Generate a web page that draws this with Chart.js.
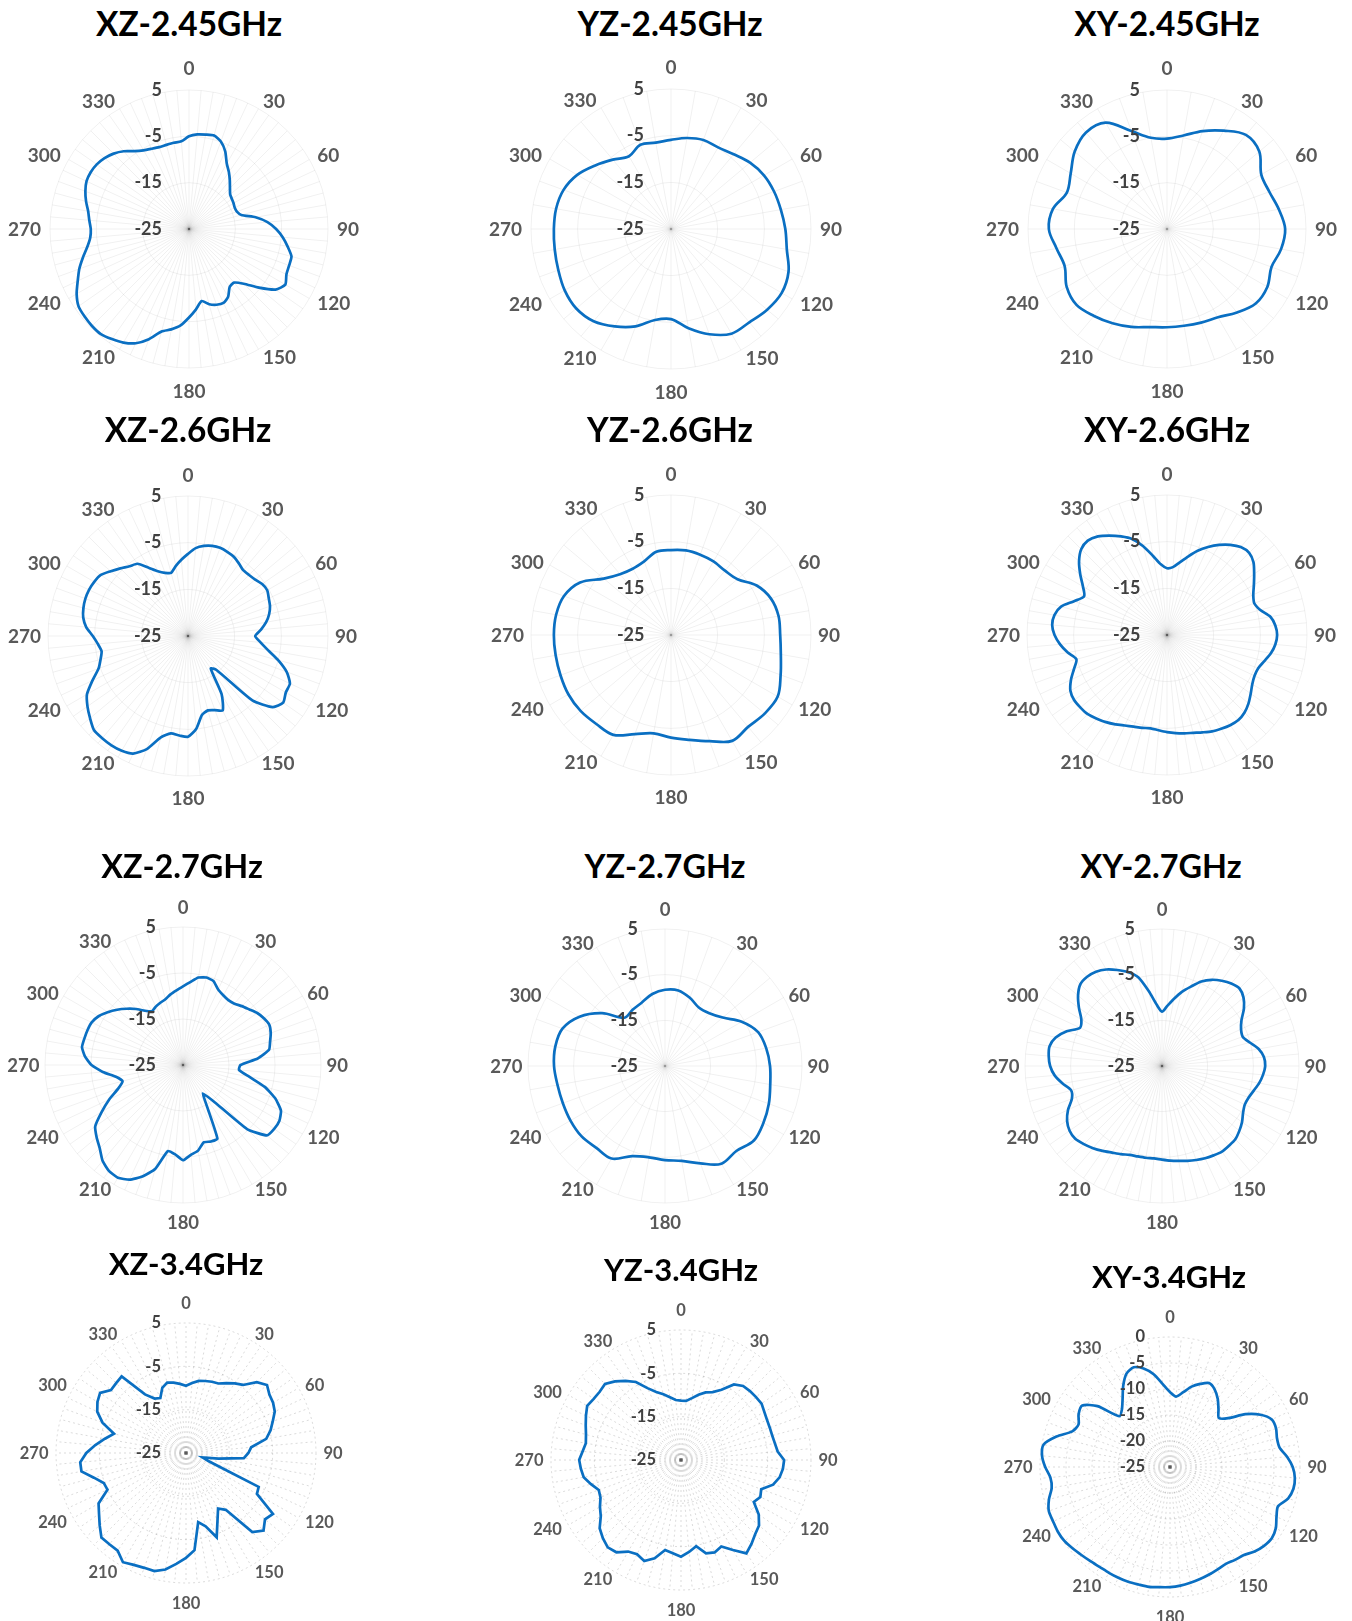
<!DOCTYPE html>
<html>
<head>
<meta charset="utf-8">
<script src="https://cdn.jsdelivr.net/npm/chart.js@4.4.1/dist/chart.umd.min.js"></script>
<style>
  html, body { margin: 0; padding: 0; background: #fff; }
  body { width: 1352px; height: 1621px; position: relative; overflow: hidden; font-family: Lato, sans-serif; }
  .plot { position: absolute; }
  .title { position: absolute; width: 400px; text-align: center; font-family: Lato, sans-serif; font-weight: bold; color: #000; line-height: 40px; }
</style>
</head>
<body>
<script>
// ---- ANGLES (degrees, clockwise from top) ----
const ANGLES_10 = [0, 10, 20, 30, 40, 50, 60, 70, 80, 90, 100, 110, 120, 130, 140, 150, 160, 170,
  180, 190, 200, 210, 220, 230, 240, 250, 260, 270, 280, 290, 300, 310, 320, 330, 340, 350];
const ANGLES_5 = [0, 5, 10, 15, 20, 25, 30, 35, 40, 45, 50, 55, 60, 65, 70, 75, 80, 85,
  90, 95, 100, 105, 110, 115, 120, 125, 130, 135, 140, 145, 150, 155, 160, 165, 170, 175,
  180, 185, 190, 195, 200, 205, 210, 215, 220, 225, 230, 235, 240, 245, 250, 255, 260, 265,
  270, 275, 280, 285, 290, 295, 300, 305, 310, 315, 320, 325, 330, 335, 340, 345, 350, 355];

// ---- RADIAL TICKS (dB) ----
const TICKS_MAIN = [-25, -15, -5, 5];
const TICKS_XY34 = [-25, -20, -15, -10, -5, 0];

// ---- GAIN PATTERNS (dB) ----
const XZ_245 = [-5.0, -4.5, -4.3, -4.1, -4.9, -6.5, -8.7, -10.0, -11.3, -12.5, -13.4, -13.7,
  -13.9, -14.1, -14.0, -13.3, -10.4, -8.0, -6.2, -4.7, -3.4, -2.1, -2.0, -1.8,
  -1.0, -2.2, -5.3, -8.3, -9.9, -9.7, -8.1, -7.4, -7.6, -8.2, -9.2, -7.6,
  -5.9, -4.1, -3.0, -2.1, 0.3, 2.2, 3.3, 4.0, 4.6, 4.6, 4.4, 4.1,
  3.0, 1.5, 0.2, -1.3, -2.7, -3.6, -3.8, -3.4, -2.9, -2.0, -1.2, -0.6,
  -0.5, -0.7, -1.2, -2.0, -3.1, -4.5, -5.4, -5.9, -6.2, -6.2, -6.1, -6.0];

const YZ_245 = [-5.9, -5.2, -4.7, -4.8, -4.1, -2.9, -2.0, -1.5, -1.1, -0.5, 0.2, 1.8,
  2.4, 1.9, 1.1, 0.9, -1.0, -3.4, -5.7, -5.2, -2.8, -0.9, 0.8, 1.5,
  1.3, 0.7, 0.3, 0.1, 0.0, -0.5, -1.8, -3.8, -5.6, -7.0, -5.8, -6.2];

const XY_245 = [-5.5, -4.5, -2.5, -0.5, 1.5, 1.0, -1.5, -1.5, -0.5, 0.5, 0.0, -1.0,
  0.0, 0.0, -1.5, -3.0, -3.5, -3.8, -3.8, -3.5, -2.5, -1.5, -0.5, 0.5,
  0.0, -1.5, -0.8, 0.5, 0.0, -2.0, -1.0, 1.0, 2.2, 1.5, -2.5, -5.0];

const XZ_26 = [-7.4, -6.1, -5.4, -5.0, -4.9, -5.1, -5.4, -6.0, -6.6, -6.5, -6.2, -5.6,
  -5.4, -5.9, -6.3, -7.0, -8.0, -9.3, -10.6, -9.4, -7.6, -5.0, -2.5, -0.9,
  -0.8, -0.1, -1.3, -5.5, -15.5, -16.5, -10.6, -7.4, -8.1, -8.5, -7.8, -5.0,
  -3.4, -3.6, -3.8, -2.5, 0.8, 2.8, 3.4, 3.6, 3.6, 3.5, 2.4, 1.3,
  0.0, -2.4, -4.6, -5.6, -6.2, -5.6, -4.6, -3.1, -2.2, -1.8, -1.6, -1.6,
  -1.8, -2.2, -3.4, -4.5, -5.5, -6.1, -8.1, -9.7, -10.6, -11.0, -9.8, -8.6];

const YZ_26 = [-6.8, -6.6, -6.7, -6.8, -7.0, -6.4, -3.8, -2.2, -1.6, -1.6, -1.1, 0.0,
  1.4, 1.2, 0.7, 1.2, -0.8, -2.2, -3.0, -3.6, -2.4, -0.3, -0.1, 0.3,
  0.4, 0.2, 0.1, 0.1, 0.0, -0.6, -2.5, -6.2, -8.0, -8.6, -8.2, -6.9];

const XY_26 = [-10.7, -10.4, -9.2, -7.6, -5.8, -4.2, -2.7, -1.4, -0.4, -0.1, -0.8, -2.2,
  -3.5, -4.6, -5.1, -4.3, -2.5, -1.7, -1.4, -1.7, -2.4, -3.4, -4.2, -4.3,
  -3.9, -3.1, -2.2, -1.5, -1.2, -1.4, -1.8, -2.2, -2.8, -3.3, -3.6, -3.9,
  -4.2, -4.5, -4.7, -4.4, -4.1, -3.6, -2.9, -2.2, -1.6, -1.0, -0.8, -0.7,
  -1.1, -2.3, -3.8, -4.9, -3.4, -2.0, -0.9, -0.3, -0.5, -1.5, -3.8, -5.4,
  -4.2, -2.3, -0.4, 1.0, 1.4, 0.8, -0.4, -1.7, -3.1, -5.3, -7.8, -9.8];

const XZ_27 = [-7.9, -6.9, -5.7, -5.3, -5.6, -6.9, -7.5, -7.8, -7.6, -6.9, -6.2, -5.3,
  -4.7, -4.3, -4.7, -5.4, -6.0, -8.7, -12.5, -12.8, -10.4, -6.6, -3.6, -1.5,
  -0.8, -0.8, -1.2, -5.3, -14.8, -17.5, -14.5, -7.3, -7.3, -7.6, -6.1, -5.4,
  -4.3, -5.5, -6.0, -1.6, 0.8, 2.5, 3.3, 3.1, 2.2, 0.6, -0.5, -1.7,
  -4.6, -7.3, -10.0, -11.4, -10.2, -7.5, -5.1, -3.6, -2.7, -2.8, -2.9, -3.1,
  -3.8, -5.0, -6.3, -7.7, -9.1, -10.6, -11.5, -11.0, -10.6, -10.2, -9.4, -8.7];

const YZ_27 = [-8.3, -8.2, -9.1, -10.2, -9.9, -8.5, -5.6, -3.3, -2.5, -2.0, -1.6, -0.8,
  -0.1, 0.4, -0.7, -0.3, -2.3, -3.9, -4.4, -4.7, -4.0, -1.6, -1.6, -1.1,
  -1.1, -1.2, -1.1, -0.7, -0.6, -1.1, -3.4, -7.0, -11.2, -10.8, -10.2, -9.0];

const XY_27 = [-13.1, -11.8, -10.1, -8.2, -6.5, -4.6, -3.2, -2.2, -1.4, -1.0, -1.7, -3.1,
  -4.9, -5.9, -6.2, -5.1, -3.5, -2.6, -2.4, -2.8, -3.4, -4.2, -4.8, -5.0,
  -4.5, -3.6, -2.9, -2.3, -2.2, -2.1, -2.4, -2.7, -3.1, -3.5, -3.9, -4.2,
  -4.5, -4.7, -4.6, -4.5, -4.3, -3.7, -3.1, -2.3, -1.5, -0.8, -0.2, -0.3,
  -1.0, -2.3, -4.0, -4.4, -2.9, -1.4, -0.5, -0.1, 0.0, -0.9, -2.8, -5.2,
  -4.6, -2.8, -1.0, 0.3, 0.5, 0.2, -0.6, -1.8, -3.1, -4.9, -8.4, -11.5];

const XZ_34 = [-9.5, -8.8, -8.1, -7.8, -7.5, -7.3, -6.4, -5.4, -4.5, -1.9, -0.6, -1.5,
  -1.8, -2.4, -3.7, -4.8, -6.2, -9.9, -10.6, -11.6, -17.4, -21.0, -19.4, -6.5,
  -6.1, -0.5, -1.2, 0.3, -1.2, -9.0, -10.2, -7.8, -4.3, -7.5, -8.8, -2.5,
  -0.8, 0.7, 2.3, 3.2, 3.2, 3.5, 4.1, 2.5, 2.5, 2.6, 1.0, -0.5,
  -1.7, -5.0, -4.8, -3.0, -0.5, -0.5, -2.0, -4.0, -6.0, -7.8, -4.5, -2.4,
  -1.4, -0.8, -2.4, -2.2, -1.9, -8.5, -10.5, -11.0, -9.0, -8.2, -8.5, -9.0];

const YZ_34 = [-11.3, -11.3, -10.5, -9.4, -8.4, -7.7, -6.3, -3.7, -2.7, -2.5, -2.4, -2.3,
  -2.8, -3.1, -3.2, -3.2, -3.0, -2.6, -1.2, -1.4, -1.9, -3.0, -5.3, -4.8,
  -5.6, -3.1, -1.5, -0.8, 0.3, 1.3, -1.0, -3.0, -2.3, -2.7, -4.8, -3.7,
  -2.7, -3.4, -3.9, -1.5, -0.2, -1.0, -0.6, 1.0, 1.3, 0.5, -0.5, -2.4,
  -3.4, -4.5, -4.8, -3.5, -2.2, -1.8, -1.5, -2.2, -2.7, -2.3, -1.6, -0.8,
  0.0, -0.4, -0.5, -0.2, -1.3, -2.7, -4.2, -6.7, -8.3, -9.3, -10.3, -11.1];

const XY_34 = [-10.6, -11.4, -10.4, -9.0, -8.0, -7.2, -7.8, -9.0, -10.5, -11.7, -10.4, -7.3,
  -4.9, -3.4, -3.3, -3.7, -3.6, -2.4, -1.4, -0.9, -0.9, -1.5, -2.9, -2.4,
  -1.5, -1.1, -1.4, -2.0, -2.9, -3.2, -3.5, -3.3, -3.0, -2.7, -2.4, -2.1,
  -1.9, -1.8, -1.6, -1.6, -1.5, -1.5, -1.5, -1.5, -1.3, -1.0, -0.6, -0.2,
  -0.1, -0.2, -0.2, -0.9, -1.9, -1.9, -1.0, -0.3, -0.3, -2.4, -5.0, -5.6,
  -4.7, -4.4, -6.8, -11.2, -10.6, -9.1, -7.0, -5.2, -4.6, -5.4, -6.9, -9.0];

// ---- TEXT STYLE PER ROW (font sizes in px, label gap outside the ring) ----
const ROW_STYLE = [
  { titleSize: 33.4, angleSize: 19,   tickSize: 18,   gap: 9,   capOffset: 13.5, tickOffset: 27 },
  { titleSize: 33.4, angleSize: 19,   tickSize: 18,   gap: 7,   capOffset: 14.5, tickOffset: 26.5 },
  { titleSize: 32.4, angleSize: 18.5, tickSize: 18,   gap: 5.5, capOffset: 14,   tickOffset: 27 },
  { titleSize: 31,   angleSize: 16.5, tickSize: 16.5, gap: 7.5, capOffset: 12.5, tickOffset: 25 }
];

// ---- LAYOUT: plot centre, ring radius (px) and title position ----
const PLOTS = [
  { title: 'XZ-2.45GHz', angles: ANGLES_5,  values: XZ_245, ticks: TICKS_MAIN, row: 0, cx: 189,   cy: 229,    r: 139,   tx: 189, ty: 23,   tension: 0.2 },
  { title: 'YZ-2.45GHz', angles: ANGLES_10, values: YZ_245, ticks: TICKS_MAIN, row: 0, cx: 670.7, cy: 229.3,  r: 140,   tx: 670, ty: 23,   tension: 0.35 },
  { title: 'XY-2.45GHz', angles: ANGLES_10, values: XY_245, ticks: TICKS_MAIN, row: 0, cx: 1167,  cy: 228.5,  r: 139,   tx: 1167, ty: 23,  tension: 0.35 },
  { title: 'XZ-2.6GHz',  angles: ANGLES_5,  values: XZ_26,  ticks: TICKS_MAIN, row: 1, cx: 187.7, cy: 635.7,  r: 140,   tx: 188, ty: 429,  tension: 0.2 },
  { title: 'YZ-2.6GHz',  angles: ANGLES_10, values: YZ_26,  ticks: TICKS_MAIN, row: 1, cx: 670.7, cy: 635,    r: 140,   tx: 670, ty: 429,  tension: 0.35 },
  { title: 'XY-2.6GHz',  angles: ANGLES_5,  values: XY_26,  ticks: TICKS_MAIN, row: 1, cx: 1167,  cy: 635,    r: 140,   tx: 1167, ty: 429, tension: 0.25 },
  { title: 'XZ-2.7GHz',  angles: ANGLES_5,  values: XZ_27,  ticks: TICKS_MAIN, row: 2, cx: 183,   cy: 1065.3, r: 137.5, tx: 182, ty: 866,  tension: 0.15 },
  { title: 'YZ-2.7GHz',  angles: ANGLES_10, values: YZ_27,  ticks: TICKS_MAIN, row: 2, cx: 665,   cy: 1066,   r: 137,   tx: 665, ty: 866,  tension: 0.35 },
  { title: 'XY-2.7GHz',  angles: ANGLES_5,  values: XY_27,  ticks: TICKS_MAIN, row: 2, cx: 1161.7, cy: 1066,  r: 137,   tx: 1161, ty: 866, tension: 0.25 },
  { title: 'XZ-3.4GHz',  angles: ANGLES_5,  values: XZ_34,  ticks: TICKS_MAIN, row: 3, cx: 186,   cy: 1453.3, r: 130,   tx: 186, ty: 1263, tension: 0, dashed: true },
  { title: 'YZ-3.4GHz',  angles: ANGLES_5,  values: YZ_34,  ticks: TICKS_MAIN, row: 3, cx: 681,   cy: 1460,   r: 130,   tx: 681, ty: 1269, tension: 0, dashed: true },
  { title: 'XY-3.4GHz',  angles: ANGLES_5,  values: XY_34,  ticks: TICKS_XY34, row: 3, cx: 1170,  cy: 1466.7, r: 130,   tx: 1169, ty: 1276, tension: 0.25, dashed: true }
];

// dB labels sit left of the 0-degree spoke, right-aligned
const sideTicks = {
  id: 'sideTicks',
  afterDatasetsDraw(chart, args, opts) {
    const s = chart.scales.r;
    const ctx = chart.ctx;
    ctx.save();
    ctx.font = 'bold ' + opts.size + 'px Lato, sans-serif';
    ctx.fillStyle = '#404040';
    ctx.textAlign = 'right';
    ctx.textBaseline = 'middle';
    s.ticks.forEach(t => {
      const d = s.getDistanceFromCenterForValue(t.value);
      ctx.fillText(String(t.value), s.xCenter - opts.offset, s.yCenter - d);
    });
    ctx.restore();
  }
};

// angle labels every 30 degrees: anchored just outside the outer ring,
// text edge facing the ring, vertically centred (top/bottom ones stacked)
const angleLabels = {
  id: 'angleLabels',
  afterDraw(chart, args, opts) {
    const s = chart.scales.r;
    const ctx = chart.ctx;
    ctx.save();
    ctx.font = 'bold ' + opts.size + 'px Lato, sans-serif';
    ctx.fillStyle = '#595959';
    ctx.textBaseline = 'middle';
    chart.data.labels.forEach((a, i) => {
      if (a % 30 !== 0) return;
      const pt = s.getPointPosition(i, s.drawingArea + opts.gap);
      let dy = 0;
      if (a === 0 || a === 180) {
        ctx.textAlign = 'center';
        dy = a === 0 ? -opts.capOffset : opts.capOffset;
      } else {
        ctx.textAlign = a < 180 ? 'left' : 'right';
      }
      ctx.fillText(String(a), pt.x, pt.y + dy + 1);
    });
    ctx.restore();
  }
};

function drawPattern(p) {
  const st = ROW_STYLE[p.row];

  const title = document.createElement('div');
  title.className = 'title';
  title.textContent = p.title;
  title.style.fontSize = st.titleSize + 'px';
  title.style.left = (p.tx - 200) + 'px';
  title.style.top = (p.ty - 20) + 'px';
  document.body.appendChild(title);

  const box = document.createElement('div');
  box.className = 'plot';
  let size = Math.round(2 * p.r + 100);
  box.style.width = size + 'px';
  box.style.height = size + 'px';
  const canvas = document.createElement('canvas');
  box.appendChild(canvas);
  document.body.appendChild(box);

  const lo = p.ticks[0];
  const hi = p.ticks[p.ticks.length - 1];
  const gridColor = p.dashed ? 'rgba(90,90,90,0.22)' : 'rgba(0,0,0,0.06)';
  const dash = p.dashed ? [2, 3] : [];

  const chart = new Chart(canvas, {
    type: 'radar',
    data: {
      labels: p.angles,
      datasets: [{
        data: p.values,
        borderColor: '#0a6fc2',
        borderWidth: 2.7,
        pointRadius: 0,
        fill: false,
        tension: p.tension
      }]
    },
    options: {
      responsive: true,
      maintainAspectRatio: false,
      animation: false,
      layout: { padding: 50 },
      plugins: {
        legend: { display: false },
        tooltip: { enabled: false },
        sideTicks: { offset: st.tickOffset, size: st.tickSize },
        angleLabels: { size: st.angleSize, gap: st.gap, capOffset: st.capOffset }
      },
      scales: {
        r: {
          min: lo,
          max: hi,
          ticks: { stepSize: p.ticks[1] - p.ticks[0], display: false },
          grid: { circular: true, color: gridColor, lineWidth: 1 },
          border: { dash: dash },
          angleLines: { color: gridColor, lineWidth: 1, borderDash: dash },
          pointLabels: { display: false }
        }
      }
    },
    plugins: [sideTicks, angleLabels]
  });

  // grow or shrink the canvas until the outer ring has the wanted radius
  for (let k = 0; k < 3; k++) {
    const d = p.r - chart.scales.r.drawingArea;
    if (Math.abs(d) < 0.5) break;
    size += 2 * d;
    box.style.width = size + 'px';
    box.style.height = size + 'px';
    chart.resize();
  }
  const s = chart.scales.r;
  box.style.left = (p.cx - s.xCenter) + 'px';
  box.style.top = (p.cy - s.yCenter) + 'px';
}

PLOTS.forEach(drawPattern);
</script>
</body>
</html>
